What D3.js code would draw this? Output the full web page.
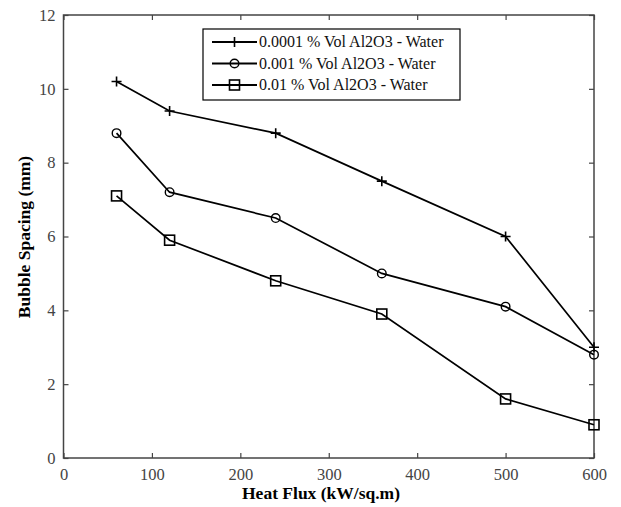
<!DOCTYPE html>
<html><head><meta charset="utf-8">
<script src="https://cdn.jsdelivr.net/npm/d3@7"></script>
<style>body{margin:0;background:#fff} svg text{font-family:"Liberation Serif","DejaVu Serif",serif !important;}</style>
</head><body>
<svg id="c" width="621" height="507"></svg>
<script>
const heatFlux = [60, 120, 240, 360, 500, 600];
const series1 = [10.2, 9.4, 8.8, 7.5, 6.0, 3.0];
const series2 = [8.8, 7.2, 6.5, 5.0, 4.1, 2.8];
const series3 = [7.1, 5.9, 4.8, 3.9, 1.6, 0.9];
const seriesNames = ["0.0001 % Vol Al2O3 - Water", "0.001 % Vol Al2O3 - Water", "0.01 % Vol Al2O3 - Water"];
const seriesMarkers = ["plus", "circle", "square"];
const xTicks = [0, 100, 200, 300, 400, 500, 600];
const yTicks = [0, 2, 4, 6, 8, 10, 12];

const svg = d3.select("#c");
const L = 63.5, R = 594, T = 15, B = 458;
const x = d3.scaleLinear().domain([0, 600]).range([L, R]);
const y = d3.scaleLinear().domain([0, 12]).range([B, T]);
const axisColor = "#444";

svg.append("rect").attr("x", L).attr("y", T).attr("width", R - L).attr("height", B - T)
  .attr("fill", "none").attr("stroke", axisColor).attr("stroke-width", 1.5);

const gx = svg.append("g").attr("transform", `translate(0,${B})`)
  .call(d3.axisBottom(x).tickValues(xTicks).tickSize(-5).tickPadding(10));
const gxt = svg.append("g").attr("transform", `translate(0,${T})`)
  .call(d3.axisTop(x).tickValues(xTicks).tickSize(-5).tickFormat(""));
const gy = svg.append("g").attr("transform", `translate(${L},0)`)
  .call(d3.axisLeft(y).tickValues(yTicks).tickSize(-5).tickPadding(8));
const gyr = svg.append("g").attr("transform", `translate(${R},0)`)
  .call(d3.axisRight(y).tickValues(yTicks).tickSize(-5).tickFormat(""));
[gx, gxt, gy, gyr].forEach(g => {
  g.select(".domain").remove();
  g.selectAll(".tick line").attr("stroke", axisColor).attr("stroke-width", 1.2);
  g.selectAll("text").attr("font-size", 16.5).attr("fill", "#444");
});
gx.selectAll("text").attr("dy", "0.75em");

svg.append("text").attr("x", 321).attr("y", 499).attr("text-anchor", "middle")
  .attr("font-weight", "bold").attr("font-size", 17.5).attr("fill", "#000").text("Heat Flux (kW/sq.m)");
svg.append("text").attr("transform", `translate(30,237) rotate(-90)`).attr("text-anchor", "middle")
  .attr("font-weight", "bold").attr("font-size", 17.5).attr("fill", "#000").text("Bubble Spacing (mm)");

const allSeries = [series1, series2, series3];
const line = d3.line().x((d, i) => x(heatFlux[i])).y(d => y(d));

function drawMarker(g, type, cx, cy) {
  if (type === "plus") {
    g.append("path").attr("d", `M${cx - 5},${cy}H${cx + 5}M${cx},${cy - 5}V${cy + 5}`)
      .attr("stroke", "#000").attr("stroke-width", 1.6).attr("fill", "none");
  } else if (type === "circle") {
    g.append("circle").attr("cx", cx).attr("cy", cy).attr("r", 4.3)
      .attr("stroke", "#000").attr("stroke-width", 1.4).attr("fill", "none");
  } else {
    g.append("rect").attr("x", cx - 5).attr("y", cy - 5).attr("width", 10).attr("height", 10)
      .attr("stroke", "#000").attr("stroke-width", 1.6).attr("fill", "none");
  }
}

allSeries.forEach((s, k) => {
  const g = svg.append("g");
  g.append("path").datum(s).attr("d", line).attr("fill", "none").attr("stroke", "#000").attr("stroke-width", 1.7);
  s.forEach((v, i) => drawMarker(g, seriesMarkers[k], x(heatFlux[i]), y(v)));
});

const lg = svg.append("g");
lg.append("rect").attr("x", 203).attr("y", 29).attr("width", 257).attr("height", 71)
  .attr("fill", "#fff").attr("stroke", "#000").attr("stroke-width", 1.2);
seriesNames.forEach((name, k) => {
  const ly = 42 + k * 21.5;
  lg.append("line").attr("x1", 212).attr("x2", 257).attr("y1", ly).attr("y2", ly)
    .attr("stroke", "#000").attr("stroke-width", 2);
  drawMarker(lg, seriesMarkers[k], 234.5, ly);
  lg.append("text").attr("x", 259).attr("y", ly + 5).attr("font-size", 16)
    .attr("fill", "#111").text(name);
});
</script>
</body></html>
